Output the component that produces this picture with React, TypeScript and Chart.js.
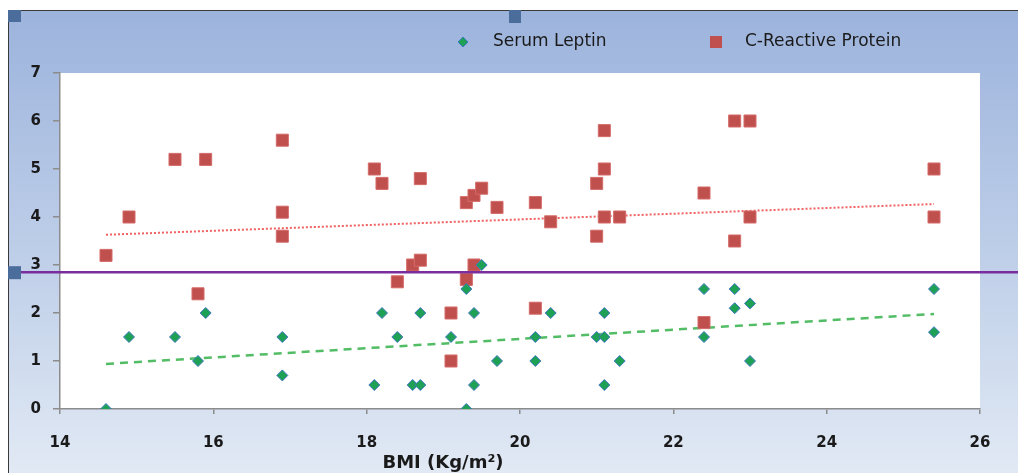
import { useEffect, useRef } from 'react';
import { Chart, registerables, Plugin } from 'chart.js';

Chart.register(...registerables);

// Serum Leptin (green diamonds)
const leptinBmi = [
  14.6, 14.9, 15.5, 15.8, 15.9, 16.9, 16.9, 18.1, 18.2, 18.4, 18.6, 18.7,
  18.7, 19.1, 19.3, 19.3, 19.4, 19.4, 19.5, 19.7, 20.2, 20.2, 20.4, 21.0,
  21.1, 21.1, 21.1, 21.3, 22.4, 22.4, 22.8, 22.8, 23.0, 23.0, 25.4, 25.4,
];
const leptinValues = [
  0, 1.5, 1.5, 1.0, 2.0, 1.5, 0.7, 0.5, 2.0, 1.5, 0.5, 0.5,
  2.0, 1.5, 2.5, 0, 2.0, 0.5, 3.0, 1.0, 1.5, 1.0, 2.0, 1.5,
  1.5, 2.0, 0.5, 1.0, 2.5, 1.5, 2.5, 2.1, 2.2, 1.0, 2.5, 1.6,
];

// C-Reactive Protein (red squares)
const crpBmi = [
  14.6, 14.9, 15.5, 15.8, 15.9, 16.9, 16.9, 16.9, 18.1, 18.2, 18.4, 18.6,
  18.7, 18.7, 19.1, 19.1, 19.3, 19.3, 19.4, 19.4, 19.5, 19.7, 20.2, 20.2,
  20.4, 21.0, 21.0, 21.1, 21.1, 21.1, 21.3, 22.4, 22.4, 22.8, 22.8, 23.0,
  23.0, 25.4, 25.4,
];
const crpValues = [
  3.2, 4.0, 5.2, 2.4, 5.2, 5.6, 4.1, 3.6, 5.0, 4.7, 2.65, 3.0,
  3.1, 4.8, 2.0, 1.0, 4.3, 2.7, 4.45, 3.0, 4.6, 4.2, 4.3, 2.1,
  3.9, 4.7, 3.6, 5.8, 5.0, 4.0, 4.0, 4.5, 1.8, 6.0, 3.5, 6.0,
  4.0, 5.0, 4.0,
];

// linear trend lines, end points
const trendBmi = [14.6, 25.4];
const leptinTrend = [0.94, 1.98];
const crpTrend = [3.63, 4.27];

// purple reference line
const cutoffValue = 2.85;

const xTicks = [14, 16, 18, 20, 22, 24, 26];
const yTicks = [0, 1, 2, 3, 4, 5, 6, 7];

const toPoints = (xs: number[], ys: number[]) => xs.map((x, i) => ({ x, y: ys[i] }));

const GREEN = '#1ea154';
const GREEN_EDGE = '#3f78c2';
const RED = '#c0504d';
const RED_EDGE = '#d46b69';

const framePlugin: Plugin = {
  id: 'excelFrame',
  beforeDraw(chart) {
    const { ctx, width, height, chartArea } = chart;
    ctx.save();
    ctx.fillStyle = '#ffffff';
    ctx.fillRect(0, 0, width, height);
    const grad = ctx.createLinearGradient(0, 10, 0, height);
    grad.addColorStop(0, '#9cb3dc');
    grad.addColorStop(0.5, '#bccde8');
    grad.addColorStop(1, '#e1e9f4');
    ctx.fillStyle = grad;
    ctx.fillRect(8, 10, width - 8, height - 10);
    ctx.strokeStyle = '#3a3a3a';
    ctx.lineWidth = 1;
    ctx.beginPath();
    ctx.moveTo(8.5, height);
    ctx.lineTo(8.5, 10.5);
    ctx.lineTo(width, 10.5);
    ctx.stroke();
    ctx.fillStyle = '#ffffff';
    ctx.fillRect(chartArea.left, chartArea.top, chartArea.right - chartArea.left, chartArea.bottom - chartArea.top);
    ctx.restore();
  },
  afterDatasetsDraw(chart) {
    const { ctx, width } = chart;
    const y = chart.scales.y.getPixelForValue(cutoffValue);
    ctx.save();
    ctx.strokeStyle = '#7a2e9e';
    ctx.lineWidth = 2.5;
    ctx.beginPath();
    ctx.moveTo(8, y);
    ctx.lineTo(width, y);
    ctx.stroke();
    ctx.restore();
  },
  afterDraw(chart) {
    const { ctx } = chart;
    const cutoffY = chart.scales.y.getPixelForValue(cutoffValue);
    ctx.save();
    // selection handles
    ctx.fillStyle = '#4b6d9c';
    ctx.fillRect(8, 10, 13, 12);
    ctx.fillRect(509, 10, 12, 13);
    ctx.fillRect(8, cutoffY - 6, 13, 13);

    // legend
    ctx.font = '17px "DejaVu Sans"';
    ctx.textBaseline = 'middle';
    ctx.fillStyle = '#1a1a1a';
    const ly = 42;
    ctx.beginPath();
    ctx.moveTo(463, ly - 5);
    ctx.lineTo(468, ly);
    ctx.lineTo(463, ly + 5);
    ctx.lineTo(458, ly);
    ctx.closePath();
    ctx.fillStyle = GREEN;
    ctx.fill();
    ctx.strokeStyle = GREEN_EDGE;
    ctx.lineWidth = 1;
    ctx.stroke();
    ctx.fillStyle = '#1a1a1a';
    ctx.fillText(String(chart.data.datasets[0].label), 493, ly);
    ctx.fillStyle = RED;
    ctx.fillRect(710, ly - 6, 12, 12);
    ctx.fillStyle = '#1a1a1a';
    ctx.fillText(String(chart.data.datasets[1].label), 745, ly);

    // x axis title
    ctx.font = 'bold 18px "DejaVu Sans"';
    ctx.textBaseline = 'alphabetic';
    ctx.textAlign = 'center';
    ctx.fillText('BMI (Kg/m\u00B2)', 443, 468);
    ctx.restore();
  },
};

export default function App() {
  const canvasRef = useRef<HTMLCanvasElement>(null);
  const chartRef = useRef<Chart | null>(null);

  useEffect(() => {
    document.body.style.margin = '0';
    if (!canvasRef.current) return;
    if (chartRef.current) chartRef.current.destroy();

    chartRef.current = new Chart(canvasRef.current, {
      type: 'scatter',
      data: {
        datasets: [
          {
            label: 'Serum Leptin',
            data: toPoints(leptinBmi, leptinValues),
            pointStyle: 'rectRot',
            pointRadius: 5.5,
            backgroundColor: GREEN,
            borderColor: GREEN_EDGE,
            borderWidth: 1,
            order: 0,
          },
          {
            label: 'C-Reactive Protein',
            data: toPoints(crpBmi, crpValues),
            pointStyle: 'rect',
            pointRadius: 8.5,
            backgroundColor: RED,
            borderColor: RED_EDGE,
            borderWidth: 1,
            order: 0,
          },
          {
            label: 'Leptin trend',
            data: toPoints(trendBmi, leptinTrend),
            showLine: true,
            pointRadius: 0,
            borderColor: 'rgba(52, 178, 74, 0.85)',
            borderWidth: 2.5,
            borderDash: [8, 6],
            order: 1,
          },
          {
            label: 'CRP trend',
            data: toPoints(trendBmi, crpTrend),
            showLine: true,
            pointRadius: 0,
            borderColor: 'rgba(240, 80, 80, 0.9)',
            borderWidth: 2,
            borderDash: [2, 2],
            order: 1,
          },
        ],
      },
      options: {
        animation: false,
        responsive: false,
        devicePixelRatio: 1,
        layout: { padding: { left: 8, top: 73, right: 38, bottom: 0 } },
        plugins: {
          legend: { display: false },
          tooltip: { enabled: false },
        },
        scales: {
          x: {
            type: 'linear',
            min: xTicks[0],
            max: xTicks[xTicks.length - 1],
            afterFit: (scale) => {
              scale.height = 64;
            },
            afterBuildTicks: (scale) => {
              scale.ticks = xTicks.map((value) => ({ value }));
            },
            border: { display: true, color: '#8c8c8c', width: 1.5 },
            grid: { drawOnChartArea: false, drawTicks: true, tickLength: 5, color: '#8c8c8c', lineWidth: 1.5 },
            ticks: {
              padding: 20,
              color: '#1a1a1a',
              font: { family: 'DejaVu Sans', size: 15, weight: 'bold' },
            },
          },
          y: {
            type: 'linear',
            min: yTicks[0],
            max: yTicks[yTicks.length - 1],
            afterFit: (scale) => {
              scale.width = 52;
            },
            afterBuildTicks: (scale) => {
              scale.ticks = yTicks.map((value) => ({ value }));
            },
            border: { display: true, color: '#8c8c8c', width: 1.5 },
            grid: { drawOnChartArea: false, drawTicks: true, tickLength: 7, color: '#8c8c8c', lineWidth: 1.5 },
            ticks: {
              padding: 12,
              color: '#1a1a1a',
              font: { family: 'DejaVu Sans', size: 15, weight: 'bold' },
            },
          },
        },
      },
      plugins: [framePlugin],
    });

    return () => {
      if (chartRef.current) {
        chartRef.current.destroy();
        chartRef.current = null;
      }
    };
  }, []);

  return (
    <div style={{ width: 1018, height: 473 }}>
      <canvas ref={canvasRef} width={1018} height={473} style={{ display: 'block' }} />
    </div>
  );
}
